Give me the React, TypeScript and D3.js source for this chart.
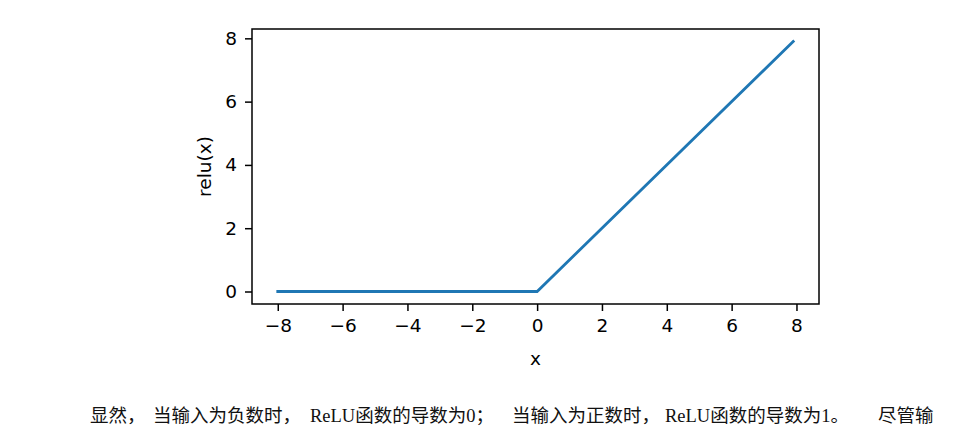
import React, { useEffect, useRef } from "react";
import * as d3 from "d3";

const xs = [-8, 0, 7.9];
const ys = [0, 0, 7.9];
const xTicks = [-8, -6, -4, -2, 0, 2, 4, 6, 8];
const yTicks = [0, 2, 4, 6, 8];
const xLabel = "x";
const yLabel = "relu(x)";
const captionParts = ["显然，", "当输入为负数时，", "ReLU函数的导数为0；", "当输入为正数时，", "ReLU函数的导数为1。", "尽管输"];
const captionStarts = [90, 153, 310, 512, 665, 878];

export default function App() {
  const ref = useRef<SVGSVGElement>(null);
  useEffect(() => {
    const svg = d3.select(ref.current);
    svg.selectAll("*").remove();
    const L = 252, R = 819, T = 29, B = 304;
    const x = d3.scaleLinear().domain([-8.795, 8.695]).range([L, R]);
    const y = d3.scaleLinear().domain([-0.395, 8.295]).range([B, T]);
    const font = "'DejaVu Sans', sans-serif";
    const fs = 18.5;

    const data = xs.map((v, i) => [v, ys[i]] as [number, number]);
    svg.append("path")
      .attr("d", d3.line<[number, number]>().x(d => x(d[0])).y(d => y(d[1]))(data))
      .attr("fill", "none").attr("stroke", "#1f77b4").attr("stroke-width", 2.8)
      .attr("stroke-linecap", "square");

    const xAxis = svg.append("g").attr("transform", `translate(0,${B})`)
      .call(d3.axisBottom(x).tickValues(xTicks).tickSize(7).tickPadding(8)
        .tickFormat(d => (d as number) < 0 ? "\u2212" + Math.abs(d as number) : String(d)));
    const yAxis = svg.append("g").attr("transform", `translate(${L},0)`)
      .call(d3.axisLeft(y).tickValues(yTicks).tickSize(7).tickPadding(8).tickFormat(d => String(d)));
    [xAxis, yAxis].forEach(g => {
      g.attr("font-size", fs).attr("font-family", font);
      g.select(".domain").remove();
      g.selectAll("line").attr("stroke", "#000").attr("stroke-width", 1.5);
      g.selectAll("text").attr("font-family", font).attr("font-size", fs).attr("fill", "#000");
    });

    svg.append("rect").attr("x", L).attr("y", T).attr("width", R - L).attr("height", B - T)
      .attr("fill", "none").attr("stroke", "#000").attr("stroke-width", 1.5);

    svg.append("text").attr("x", (L + R) / 2).attr("y", 365).attr("text-anchor", "middle")
      .attr("font-family", font).attr("font-size", fs).text(xLabel);
    svg.append("text").attr("transform", `translate(211,${(T + B) / 2}) rotate(-90)`)
      .attr("text-anchor", "middle").attr("font-family", font).attr("font-size", fs).text(yLabel);

    const cap = svg.append("g")
      .attr("font-family", "'Liberation Serif', 'DejaVu Serif', 'Noto Sans CJK SC', serif")
      .attr("font-size", 18.5).attr("fill", "#111");
    captionParts.forEach((p, i) => {
      cap.append("text").attr("x", captionStarts[i]).attr("y", 422).text(p);
    });
  }, []);
  return (
    <svg ref={ref} width={970} height={437}
      style={{ position: "absolute", left: 0, top: 0, background: "#fff" }} />
  );
}
